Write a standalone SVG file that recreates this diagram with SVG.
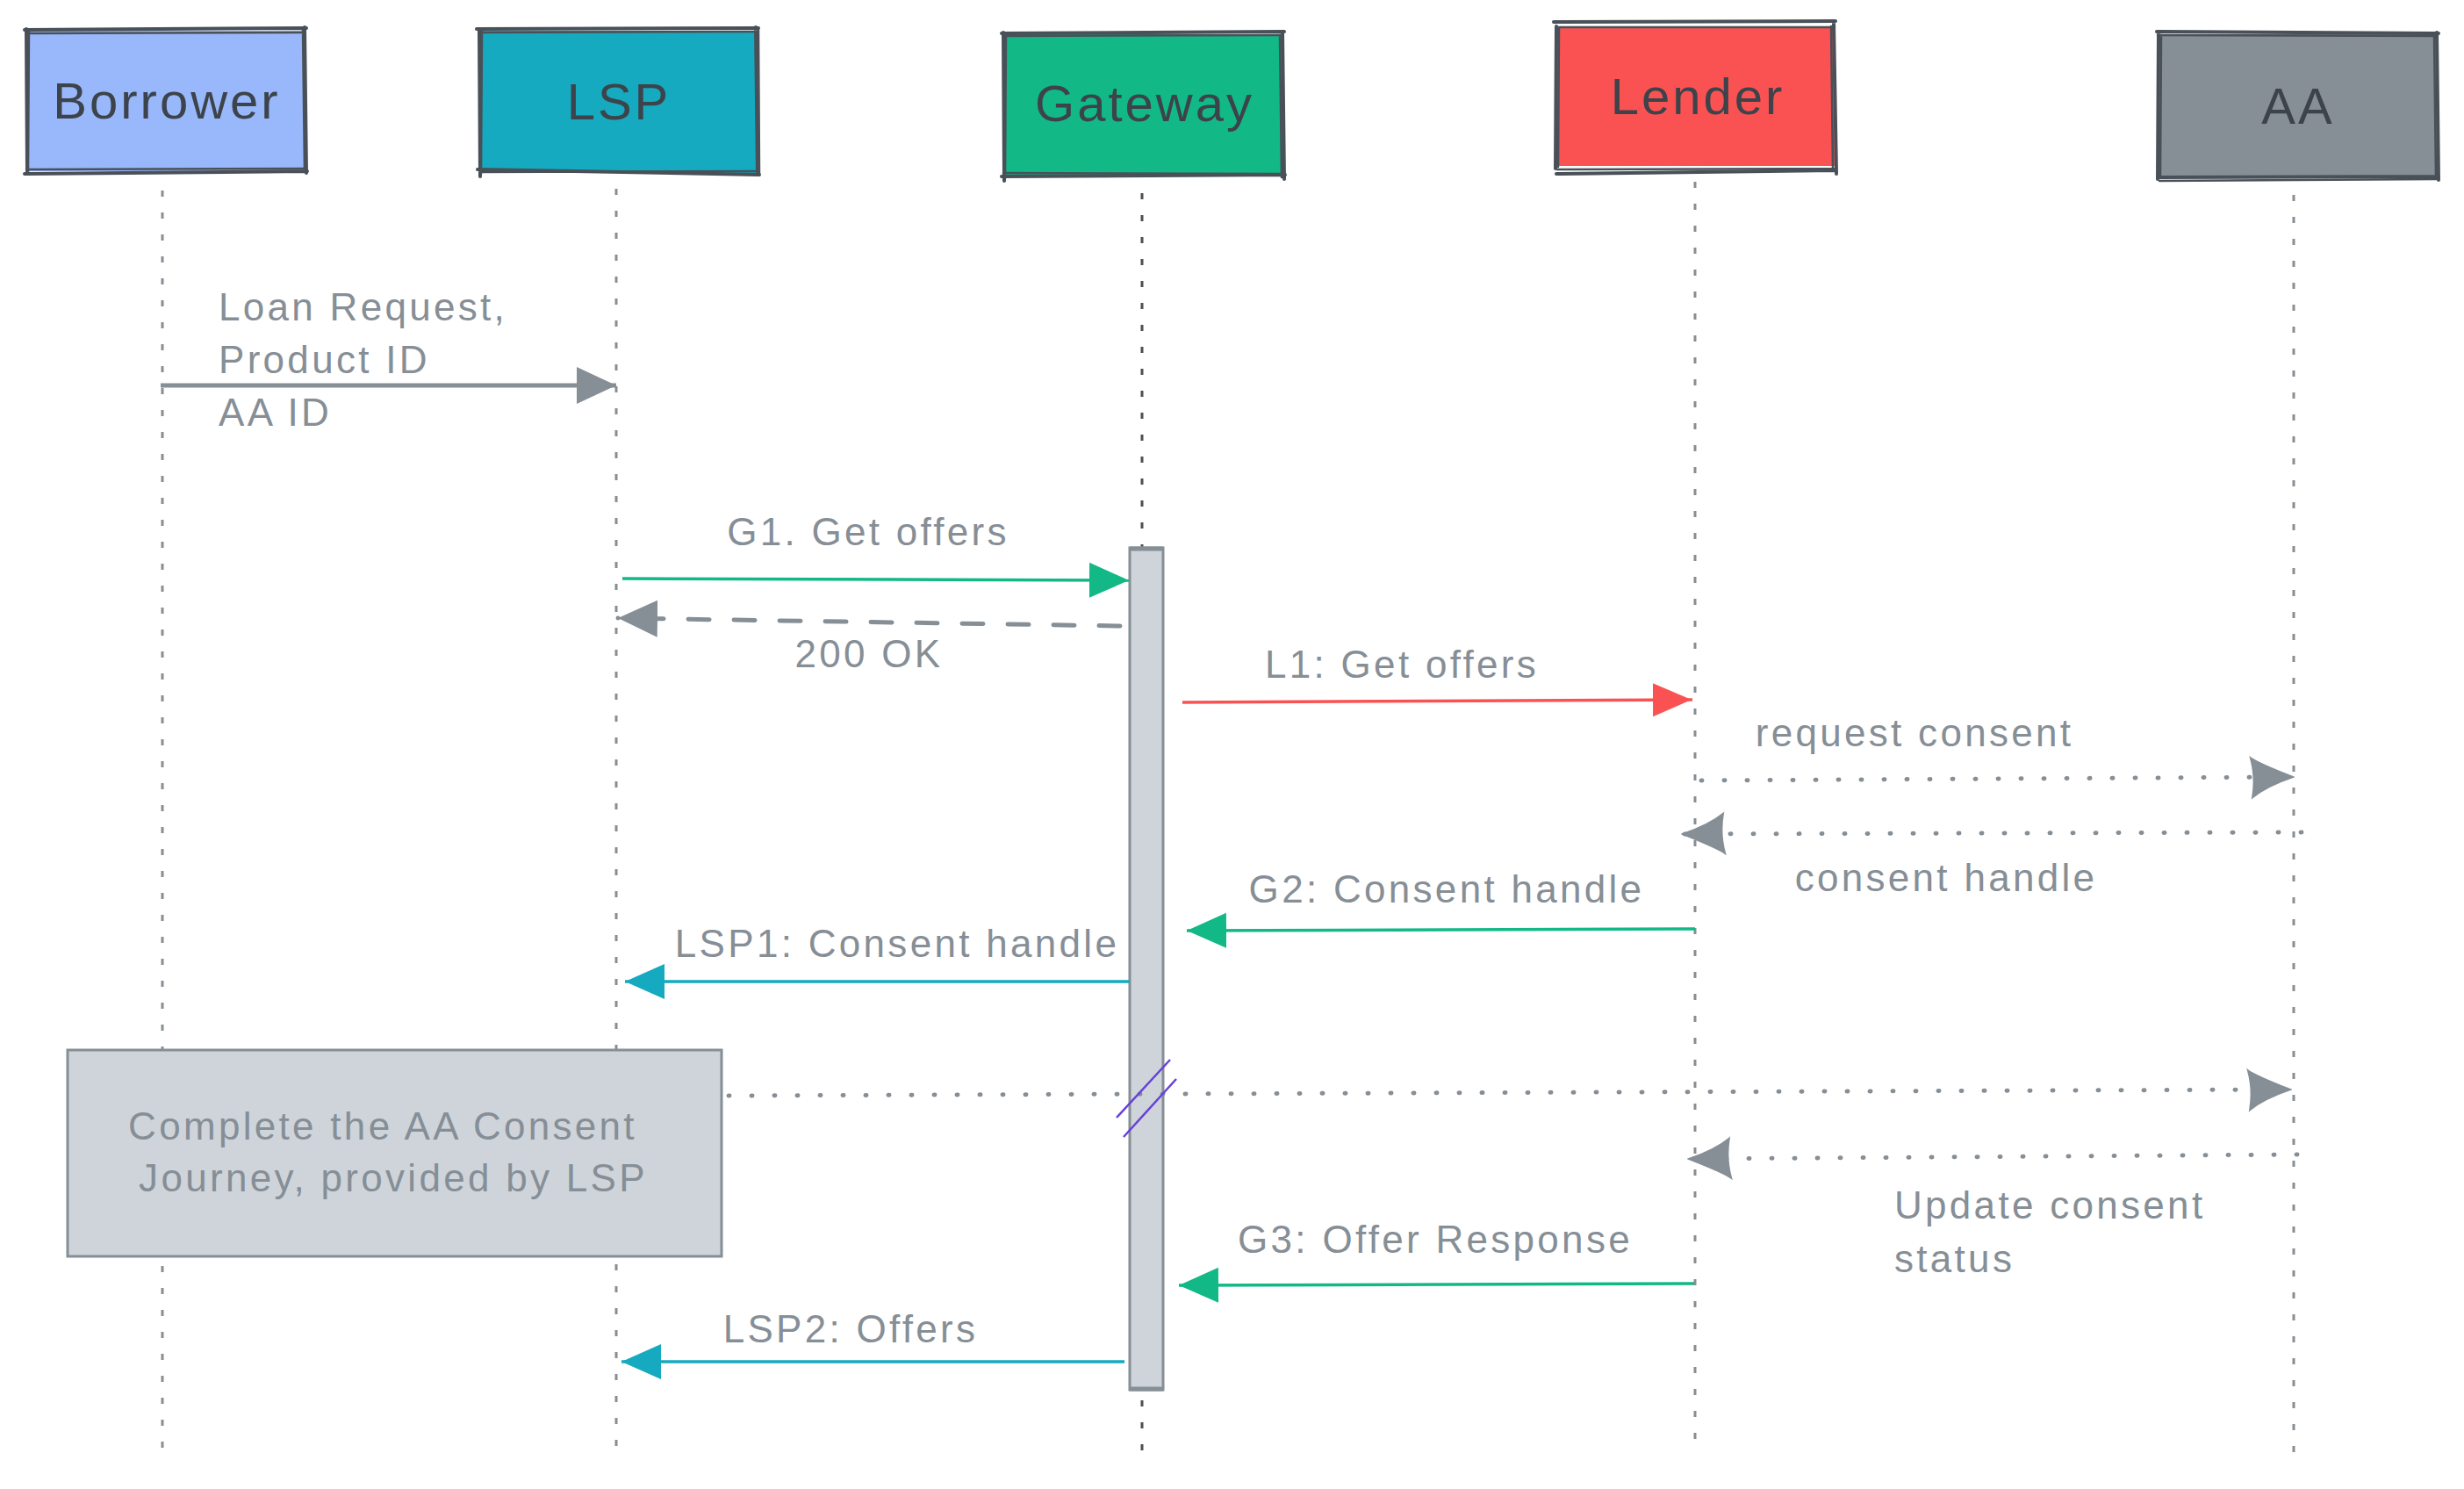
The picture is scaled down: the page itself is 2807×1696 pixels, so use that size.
<svg xmlns="http://www.w3.org/2000/svg" width="2807" height="1696" viewBox="0 0 2807 1696">
<style>
.bg{fill:#ffffff}
.sk{fill:none;stroke:#495057;stroke-width:4;stroke-linecap:round}
.sk2{fill:none;stroke:#495057;stroke-width:2.5;stroke-linecap:round}
.name{font-family:"Liberation Sans",Arial,sans-serif;font-size:58px;fill:#3d434a;text-anchor:middle;letter-spacing:3px}
.msg{font-family:"Liberation Sans",Arial,sans-serif;font-size:44px;fill:#868e96;letter-spacing:3.3px}
.mid{text-anchor:middle}
.life{stroke:#868e96;stroke-width:3;stroke-dasharray:7 18;fill:none}
.lifeDark{stroke:#495057;stroke-width:3;stroke-dasharray:7 18;fill:none}
.solid{fill:none;stroke-width:3.5}
.dashed{fill:none;stroke:#868e96;stroke-width:5;stroke-dasharray:24 28;stroke-linecap:round}
.dotted{fill:none;stroke:#868e96;stroke-width:5;stroke-dasharray:1 25;stroke-linecap:round}
</style>
<defs>
<marker id="hGray" markerUnits="userSpaceOnUse" markerWidth="46" markerHeight="42" refX="45" refY="21" orient="auto"><path d="M0,0 L45,21 L0,42 Z" fill="#868e96"/></marker>
<marker id="hGreen" markerUnits="userSpaceOnUse" markerWidth="46" markerHeight="42" refX="45" refY="21" orient="auto"><path d="M0,1 L45,21 L0,41 Z" fill="#12b886"/></marker>
<marker id="hRed" markerUnits="userSpaceOnUse" markerWidth="46" markerHeight="42" refX="45" refY="21" orient="auto"><path d="M0,2 L44,21 L0,40 Z" fill="#fa5252"/></marker>
<marker id="hCyan" markerUnits="userSpaceOnUse" markerWidth="46" markerHeight="42" refX="45" refY="21" orient="auto"><path d="M0,1 L45,21 L0,41 Z" fill="#15aabf"/></marker>
<marker id="hDot" markerUnits="userSpaceOnUse" markerWidth="52" markerHeight="50" refX="50" refY="24" orient="auto"><path d="M2,2 Q10,8 50,24 Q20,34 4,47 Q8,24 2,2 Z" fill="#868e96" stroke="#868e96" stroke-width="2"/></marker>
</defs>
<rect class="bg" x="0" y="0" width="2807" height="1696"/>

<g id="lifelines">
<line class="life" x1="185" y1="217" x2="185" y2="1652"/>
<line class="life" x1="702" y1="215" x2="702" y2="1652"/>
<line class="lifeDark" x1="1301" y1="220" x2="1301" y2="1658"/>
<line class="life" x1="1931" y1="207" x2="1931" y2="1645"/>
<line class="life" x1="2613" y1="222" x2="2613" y2="1660"/>
</g>

<g id="borrower">
<rect x="32" y="35" width="315" height="160" fill="#99b8fc"/>
<path class="sk" d="M28,34 L349,32 M30,33 L31,198 M347,31 L349,197 M28,198 L350,195"/>
<path class="sk2" d="M31,38 L347,37 M33,36 L32,196 M345,34 L347,196 M30,193 L349,192"/>
<text class="name" x="190" y="135">Borrower</text>
</g>

<g id="lsp">
<rect x="547" y="35" width="315" height="162" fill="#15aabf"/>
<path class="sk" d="M543,33 L864,32 M546,34 L547,201 M861,31 L863,199 M544,193 L865,199"/>
<path class="sk2" d="M546,37 L861,36 M549,36 L548,198 M864,34 L865,198 M547,196 L861,195"/>
<text class="name" x="705" y="136">LSP</text>
</g>

<g id="gateway">
<rect x="1143" y="39" width="318" height="162" fill="#12b886"/>
<path class="sk" d="M1141,38 L1463,36 M1143,37 L1144,206 M1461,36 L1463,204 M1141,201 L1464,199"/>
<path class="sk2" d="M1146,41 L1460,40 M1146,40 L1145,203 M1458,40 L1460,202 M1143,197 L1462,198"/>
<text class="name" x="1304" y="138">Gateway</text>
</g>

<g id="lender">
<rect x="1774" y="31" width="316" height="158" fill="#fa5252"/>
<path class="sk" d="M1770,25 L2091,24 M1773,30 L1772,192 M2089,26 L2092,198 M1773,198 L2091,194"/>
<path class="sk2" d="M1773,31 L2090,31 M1776,31 L1775,190 M2086,30 L2088,194 M1774,193 L2089,192"/>
<text class="name" x="1934" y="130">Lender</text>
</g>

<g id="aa">
<rect x="2460" y="39" width="316" height="162" fill="#868e96"/>
<path class="sk" d="M2457,36 L2778,38 M2459,37 L2458,204 M2776,37 L2778,205 M2458,202 L2778,201"/>
<path class="sk2" d="M2458,40 L2777,41 M2462,40 L2461,202 M2773,40 L2775,203 M2460,206 L2776,204"/>
<text class="name" x="2618" y="141">AA</text>
</g>

<g id="activation">
<rect x="1287" y="624" width="38" height="959" fill="#ced4da" stroke="#868e96" stroke-width="3"/>
<line x1="1287" y1="625" x2="1325" y2="625" stroke="#868e96" stroke-width="5"/>
<line x1="1287" y1="1582" x2="1325" y2="1582" stroke="#868e96" stroke-width="5"/>
</g>

<g id="note">
<rect x="77" y="1196" width="745" height="235" fill="#ced4da" stroke="#868e96" stroke-width="3"/>
<text class="msg mid" x="436" y="1298">Complete the AA Consent</text>
<text class="msg mid" x="448" y="1357">Journey, provided by LSP</text>
</g>

<g id="connectors">
<path d="M183,439 L702,439" fill="none" stroke="#868e96" stroke-width="5" marker-end="url(#hGray)"/>
<path class="solid" d="M709,659 L1286,661" stroke="#12b886" marker-end="url(#hGreen)"/>
<path class="dashed" d="M1276,713 L704,704" marker-end="url(#hGray)"/>
<path class="solid" d="M1347,800 L1928,797" stroke="#fa5252" marker-end="url(#hRed)"/>
<path class="dotted" d="M1938,889 L2612,885" marker-end="url(#hDot)"/>
<path class="dotted" d="M2622,948 L1917,950" marker-end="url(#hDot)"/>
<path class="solid" d="M1931,1058 L1352,1060" stroke="#12b886" marker-end="url(#hGreen)"/>
<path class="solid" d="M1287,1118 L712,1118" stroke="#15aabf" marker-end="url(#hCyan)"/>
<path class="dotted" d="M830,1248 L2609,1241" marker-end="url(#hDot)"/>
<path d="M1272,1273 L1333,1207 M1280,1295 L1340,1229" fill="none" stroke="#6741d9" stroke-width="2.5"/>
<path class="dotted" d="M2617,1315 L1924,1320" marker-end="url(#hDot)"/>
<path class="solid" d="M1930,1462 L1343,1464" stroke="#12b886" marker-end="url(#hGreen)"/>
<path class="solid" d="M1281,1551 L708,1551" stroke="#15aabf" marker-end="url(#hCyan)"/>
</g>

<g id="labels">
<text class="msg" x="249" y="365">Loan Request,</text>
<text class="msg" x="249" y="425">Product ID</text>
<text class="msg" x="249" y="485">AA ID</text>
<text class="msg mid" x="989" y="621">G1. Get offers</text>
<text class="msg mid" x="990" y="760">200 OK</text>
<text class="msg mid" x="1597" y="772">L1: Get offers</text>
<text class="msg mid" x="2181" y="850">request consent</text>
<text class="msg mid" x="2217" y="1015">consent handle</text>
<text class="msg mid" x="1648" y="1028">G2: Consent handle</text>
<text class="msg mid" x="1022" y="1090">LSP1: Consent handle</text>
<text class="msg" x="2158" y="1388">Update consent</text>
<text class="msg" x="2158" y="1449">status</text>
<text class="msg mid" x="1635" y="1427">G3: Offer Response</text>
<text class="msg mid" x="969" y="1529">LSP2: Offers</text>
</g>
</svg>
